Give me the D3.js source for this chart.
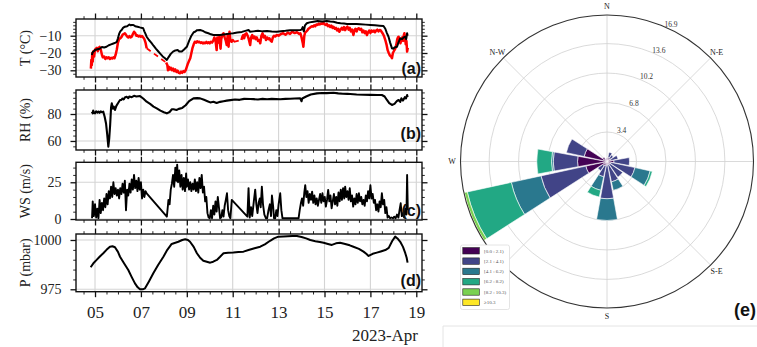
<!DOCTYPE html>
<html><head><meta charset="utf-8">
<script src="https://cdn.jsdelivr.net/npm/d3@7"></script>
<style>body{margin:0;background:#fff}svg{display:block}</style>
</head><body>
<svg id="chart" width="757" height="347"></svg>
<script>
// ---------- DATA (day of April 2023, value) ----------
const tempBlack = [[4.86,-21.2],[4.9,-19.5],[4.95,-19],[5.0,-18.3],[5.1,-17.8],[5.2,-17.5],[5.3,-16.5],[5.4,-16.8],[5.5,-16.4],[5.6,-15.5],[5.7,-15],[5.8,-14.5],[5.9,-14],[5.95,-13.5],[6.0,-11.5],[6.05,-9],[6.1,-7.5],[6.16,-6.7],[6.22,-5.5],[6.3,-4.8],[6.4,-4.5],[6.5,-3.5],[6.55,-4],[6.6,-3.8],[6.67,-3.8],[6.75,-4.5],[6.85,-4.8],[6.95,-5.2],[7.05,-5.5],[7.1,-5.7],[7.15,-7.5],[7.2,-9],[7.25,-10.6],[7.35,-12.5],[7.45,-14],[7.55,-15.8],[7.65,-17.5],[7.75,-19],[7.85,-20.5],[7.95,-22],[8.05,-23],[8.13,-24],[8.2,-22.5],[8.3,-20.5],[8.4,-19.2],[8.5,-18.5],[8.6,-18.3],[8.68,-19.2],[8.78,-19.2],[8.88,-18],[9.0,-16.4],[9.1,-13],[9.2,-10],[9.3,-8],[9.36,-7.7],[9.45,-6.8],[9.58,-6.7],[9.7,-7.2],[9.8,-8],[9.94,-8.6],[10.05,-9.2],[10.16,-9.6],[10.3,-9.6],[10.45,-9.6],[10.6,-9.3],[10.75,-9],[10.9,-8.8],[11.03,-8.6],[11.2,-8.2],[11.4,-7.8],[11.55,-7.2],[11.69,-6.7],[11.76,-7.7],[11.9,-7.5],[12.1,-7.2],[12.3,-7.5],[12.5,-7.3],[12.7,-7.6],[12.92,-7.7],[13.1,-7.4],[13.3,-7.2],[13.5,-6.9],[13.7,-6.8],[13.94,-6.7],[14.0,-6.5],[14.05,-5],[14.1,-7.5],[14.15,-4],[14.23,-2.8],[14.35,-2.3],[14.52,-1.9],[14.7,-1.5],[14.9,-1.8],[15.1,-1.5],[15.25,-1.8],[15.39,-1.9],[15.55,-2.5],[15.7,-2.8],[15.85,-3],[15.98,-3.2],[16.2,-3.2],[16.4,-3.3],[16.56,-3.4],[16.8,-3.6],[17.0,-3.8],[17.2,-4],[17.4,-4.2],[17.57,-4.4],[17.65,-6],[17.72,-8.5],[17.79,-10.6],[17.86,-14],[17.94,-17.3],[18.0,-17.5],[18.05,-16.8],[18.16,-16.4],[18.22,-14],[18.3,-11.5],[18.38,-12],[18.45,-11],[18.52,-10.6],[18.56,-12],[18.6,-8.6],[18.62,-10]];

const tempRed = [[4.82,-29],[4.84,-24],[4.86,-27],[4.88,-20],[4.9,-25],[4.93,-19],[4.96,-22],[5.0,-18],[5.04,-17.5],[5.08,-17],[5.12,-19],[5.16,-17],[5.2,-16.5],[5.25,-18],[5.3,-21],[5.34,-22.5],[5.4,-22],[5.45,-23.5],[5.5,-22.5],[5.55,-23],[5.6,-22.5],[5.65,-23.5],[5.7,-22.8],[5.75,-23.2],[5.8,-22.5],[5.85,-23],[5.9,-21],[5.95,-18],[6.0,-14],[6.05,-12],[6.1,-11.5],[6.15,-10.8],[6.2,-9.5],[6.25,-9],[6.3,-8.6],[6.35,-9.5],[6.4,-10.5],[6.45,-11],[6.5,-10.2],[6.55,-11],[6.6,-10.6],[6.65,-9],[6.7,-7.7],[6.75,-8.5],[6.8,-10],[6.85,-9.8],[6.9,-10.5],[6.95,-10],[7.0,-10.6],[7.05,-10.2],[7.1,-11],[7.15,-12],[7.2,-14],[7.25,-17.3],[8.1,-25.5],[8.15,-27],[8.18,-30],[8.22,-28],[8.26,-29.5],[8.3,-28.5],[8.35,-30],[8.4,-29],[8.45,-30.5],[8.5,-29.5],[8.55,-31],[8.6,-30.2],[8.65,-31.5],[8.7,-31.7],[8.75,-30.8],[8.8,-31.5],[8.85,-30.5],[8.9,-31],[8.95,-30],[9.0,-28],[9.05,-26],[9.1,-24.5],[9.15,-23],[9.2,-20],[9.25,-17],[9.3,-15],[9.35,-13.5],[9.4,-14],[9.45,-13.2],[9.5,-13.8],[9.55,-13.5],[9.6,-14.2],[9.65,-13.8],[9.7,-14.5],[9.75,-14],[9.8,-14.4],[9.85,-13.6],[9.9,-14.3],[9.95,-13.8],[10.0,-14.4],[10.05,-13.5],[10.1,-14],[10.15,-13],[10.2,-11],[10.25,-12.5],[10.3,-18.3],[10.33,-11],[10.38,-14],[10.42,-10.6],[10.47,-17.5],[10.5,-12],[10.55,-9.6],[10.6,-8.6],[10.65,-11],[10.7,-13],[10.74,-15.4],[10.78,-10],[10.82,-16.4],[10.86,-7.7],[10.9,-12.5],[10.95,-13.5],[11.0,-12.5],[11.05,-13.5],[11.38,-12.5],[11.42,-10.6],[11.46,-9.6],[11.5,-11.5],[11.55,-9],[11.6,-8.6],[11.65,-10],[11.7,-12],[11.76,-15.4],[11.8,-11],[11.85,-9.6],[11.9,-11.5],[11.95,-10.5],[12.0,-12],[12.05,-11],[12.1,-13],[12.15,-12.5],[12.2,-14.4],[12.25,-10],[12.3,-8.6],[12.35,-11],[12.4,-10],[12.45,-12.5],[12.5,-11],[12.55,-12],[12.6,-11.5],[12.65,-12.8],[12.7,-13.5],[12.75,-11],[12.8,-10],[12.85,-10.5],[12.92,-9.6],[13.0,-10],[13.1,-9],[13.2,-8.6],[13.3,-9.5],[13.4,-8.2],[13.5,-9],[13.6,-7.7],[13.7,-8.5],[13.8,-8],[13.9,-9],[13.95,-8.6],[14.0,-11],[14.05,-14],[14.08,-16.4],[14.12,-10],[14.16,-8],[14.2,-7.7],[14.25,-7],[14.3,-6],[14.35,-5.5],[14.4,-5],[14.45,-4.5],[14.5,-4.8],[14.55,-4],[14.6,-4.5],[14.65,-3.5],[14.7,-3.8],[14.75,-3],[14.8,-3.5],[14.85,-2.8],[14.9,-3.2],[14.96,-2.5],[15.0,-3.5],[15.05,-3.8],[15.1,-3.2],[15.15,-4.5],[15.2,-4],[15.25,-5],[15.3,-4.2],[15.35,-5.5],[15.39,-4.8],[15.45,-6],[15.5,-5.5],[15.55,-7],[15.6,-6],[15.65,-7.7],[15.7,-6.5],[15.75,-5.5],[15.8,-6.5],[15.85,-5],[15.9,-6.8],[15.95,-5.5],[16.0,-4.8],[16.05,-6.5],[16.1,-5.5],[16.15,-7.5],[16.2,-6.5],[16.26,-9.6],[16.3,-7],[16.35,-6],[16.4,-7.5],[16.45,-6],[16.5,-5.7],[16.55,-6.5],[16.6,-6],[16.65,-8],[16.7,-7],[16.75,-8.5],[16.8,-7.5],[16.85,-9.6],[16.9,-8],[16.95,-7],[17.0,-8.5],[17.05,-7],[17.1,-7.7],[17.15,-7],[17.2,-8],[17.25,-7],[17.3,-6.5],[17.35,-7.5],[17.4,-6.7],[17.45,-7],[17.5,-8],[17.55,-9],[17.6,-10.5],[17.65,-12.5],[17.7,-15],[17.75,-18.3],[17.8,-20],[17.85,-21.5],[17.9,-22],[17.94,-23],[17.98,-20],[18.02,-19],[18.06,-18],[18.09,-17.3],[18.13,-15],[18.17,-12],[18.2,-11],[18.23,-10.6],[18.27,-13],[18.31,-14.4],[18.35,-12],[18.39,-11],[18.43,-13],[18.46,-9.5],[18.48,-8.6],[18.51,-11],[18.54,-15],[18.57,-13],[18.6,-19.2],[18.63,-17]];

const relHumidity = [[4.86,81.7],[4.9,80.5],[4.92,82.5],[4.96,80.8],[5.0,80.5],[5.05,82],[5.1,81],[5.15,81.8],[5.2,80.9],[5.25,82],[5.3,81.3],[5.36,81.7],[5.42,78],[5.48,73],[5.53,65],[5.58,55.8],[5.62,62],[5.66,72],[5.7,85],[5.73,87.9],[5.78,84],[5.82,85.5],[5.87,83],[5.93,86],[6.0,88],[6.09,90.4],[6.15,90.5],[6.2,91.5],[6.25,90.8],[6.3,92.2],[6.38,92.8],[6.45,91.8],[6.5,93],[6.6,92.5],[6.7,93.5],[6.8,93],[6.96,93.3],[7.1,91.5],[7.25,89.1],[7.4,87.5],[7.55,85.5],[7.69,84.2],[7.85,82.5],[8.0,81.3],[8.13,80.5],[8.25,81.5],[8.35,83.5],[8.42,83.5],[8.55,83],[8.65,83.8],[8.8,84.5],[8.95,86.5],[9.1,89.5],[9.29,91.6],[9.45,91.8],[9.58,91.6],[9.75,90.5],[9.9,89.5],[10.02,88.6],[10.16,89.1],[10.3,88.2],[10.45,89],[10.6,89.5],[10.74,89.9],[10.9,90.3],[11.1,90.8],[11.3,90.5],[11.5,91.2],[11.76,91.1],[11.9,91],[12.1,90.8],[12.3,91.2],[12.5,90.9],[12.7,91.2],[13.07,90.9],[13.3,91.2],[13.5,91.3],[13.7,91.5],[13.94,91.6],[14.0,89.5],[14.03,91.5],[14.2,93],[14.4,94.5],[14.67,95.3],[14.9,95.6],[15.1,95.5],[15.39,95.8],[15.6,95.3],[15.8,95],[16.0,94.9],[16.12,94.8],[16.4,94.5],[16.7,94.3],[17.0,94.2],[17.3,94.1],[17.5,94.1],[17.62,93],[17.72,90.4],[17.82,88],[17.94,86.7],[18.05,87.5],[18.15,89.5],[18.23,90.4],[18.3,89],[18.35,91.6],[18.42,90],[18.5,92.5],[18.55,91.5],[18.6,94.1],[18.62,92.5]];

const windSpeed = [[4.87,0.5],[4.9,12],[4.95,2],[5.0,10],[5.05,1],[5.1,7],[5.15,0.5],[5.2,13],[5.25,4],[5.3,11],[5.35,6],[5.4,14],[5.45,8],[5.5,17],[5.55,10],[5.6,19],[5.65,14],[5.7,22],[5.75,15],[5.8,25],[5.85,17],[5.9,21],[5.95,16],[6.0,20],[6.05,14],[6.1,21],[6.15,17],[6.2,24],[6.25,18],[6.3,26],[6.35,6],[6.4,20],[6.45,16],[6.5,24],[6.55,18],[6.6,27],[6.65,20],[6.7,30],[6.75,21],[6.8,26],[6.85,19],[6.9,28],[6.95,20],[7.0,25],[7.05,14],[7.1,20],[7.15,15],[7.2,19],[7.25,17.5],[8.13,1.6],[8.17,8],[8.2,13],[8.25,10],[8.3,20],[8.35,24],[8.4,30],[8.45,22],[8.5,35],[8.55,26],[8.58,37],[8.62,25],[8.67,33],[8.72,22],[8.77,30],[8.82,20],[8.87,28],[8.92,19],[8.97,31],[9.0,22],[9.05,27],[9.1,20],[9.15,25],[9.2,19],[9.25,24],[9.3,20],[9.35,27],[9.4,19],[9.45,25],[9.5,18],[9.55,28],[9.6,21],[9.65,30],[9.7,18],[9.75,22],[9.8,12],[9.85,15],[9.9,4],[9.95,1],[10.0,0.5],[10.05,6],[10.1,0.5],[10.15,9],[10.2,3],[10.25,12],[10.3,5],[10.35,15],[10.4,8],[10.45,0.5],[10.5,1],[10.55,6],[10.6,1.6],[10.65,9],[10.7,13],[10.75,17.5],[10.8,6],[10.85,2],[10.9,0.5],[10.96,13],[11.64,1.6],[11.69,21],[11.74,1],[11.8,8],[11.85,2],[11.92,12],[11.98,20],[12.03,10],[12.08,4],[12.13,11],[12.18,14],[12.22,8],[12.27,22],[12.32,10],[12.38,3],[12.45,0.5],[12.5,0.5],[12.56,6],[12.62,10],[12.67,2],[12.71,16],[12.76,9],[12.8,0.5],[12.85,0.5],[12.9,6],[12.95,2],[13.0,10],[13.07,17.5],[13.12,6],[13.17,0.5],[13.87,0.5],[13.92,6],[13.97,10.7],[14.02,14],[14.07,9],[14.12,18],[14.16,23],[14.21,15],[14.26,19],[14.31,11],[14.36,17],[14.41,13],[14.46,18.6],[14.51,11],[14.56,16],[14.61,10],[14.66,14],[14.71,9],[14.76,13],[14.81,17],[14.86,11],[14.91,17.5],[14.96,12],[15.01,15],[15.06,8.4],[15.11,13],[15.16,19.8],[15.21,12],[15.26,16],[15.31,7.3],[15.36,12],[15.41,17],[15.46,10],[15.51,15],[15.56,9],[15.61,18],[15.66,12],[15.71,20],[15.76,13],[15.81,21],[15.86,14],[15.9,22],[15.95,15],[16.0,19],[16.05,13],[16.1,20.9],[16.15,12],[16.2,16],[16.25,8.4],[16.3,14],[16.35,10],[16.4,17],[16.45,11],[16.5,17.5],[16.55,12],[16.6,15],[16.65,10],[16.7,13],[16.75,9],[16.8,16],[16.85,12],[16.9,19],[16.95,14],[17.0,23],[17.05,14],[17.1,17],[17.15,11],[17.2,13],[17.25,6],[17.3,10],[17.35,5],[17.4,12],[17.45,8],[17.5,17.5],[17.55,10],[17.6,13],[17.65,4],[17.7,8],[17.75,1],[17.8,2],[17.86,0.5],[17.92,1],[17.98,0.5],[18.04,1.6],[18.1,0.5],[18.16,3],[18.22,1],[18.27,6],[18.32,10.7],[18.37,2],[18.42,3.9],[18.47,1],[18.52,7],[18.57,3],[18.6,30],[18.63,6]];

const pressure = [[4.81,986.2],[4.95,988.5],[5.07,989.9],[5.2,991.5],[5.36,993.3],[5.5,995],[5.65,996.6],[5.76,996.8],[5.87,996.3],[6.0,994],[6.09,991.5],[6.25,988.5],[6.45,984.8],[6.6,981.2],[6.74,978],[6.86,976],[6.96,975],[7.08,975],[7.18,975.5],[7.35,979],[7.54,983.1],[7.75,987.3],[7.98,991.5],[8.15,995],[8.34,998],[8.5,998.6],[8.63,999.1],[8.8,1000],[8.93,1000.4],[9.05,1000],[9.14,999.1],[9.3,996.5],[9.44,993.3],[9.58,991],[9.72,989.5],[9.87,989],[10.02,988.5],[10.15,989],[10.31,989.9],[10.45,991.5],[10.6,993.3],[10.8,993.5],[11.03,993.6],[11.25,993.9],[11.47,994.1],[11.69,994.9],[11.95,995.8],[12.2,996.6],[12.4,997.8],[12.63,999.6],[12.8,1000.8],[12.99,1001.7],[13.2,1001.8],[13.4,1001.9],[13.6,1002],[13.8,1002],[14.0,1001.5],[14.2,1000.8],[14.38,1000],[14.6,999.4],[14.8,999],[14.96,998.6],[15.15,998],[15.32,997.5],[15.5,998.3],[15.68,998.6],[15.9,998],[16.1,997.3],[16.26,996.6],[16.5,995.5],[16.7,994.1],[16.82,993],[16.92,991.9],[17.1,993],[17.28,993.6],[17.45,994.2],[17.65,994.9],[17.8,996],[17.95,999.5],[18.08,1001.7],[18.18,1000.8],[18.3,999.1],[18.42,996.5],[18.52,993.3],[18.58,991],[18.62,988.5]];

const dateTicks = [5, 7, 9, 11, 13, 15, 17, 19];
const dateTickLabels = ["05", "07", "09", "11", "13", "15", "17", "19"];
const tTicks = [-30, -20, -10];
const rhTicks = [60, 80];
const wsTicks = [0, 25];
const pTicks = [975, 1000];

// Wind rose
const directions = ["N","NNE","NE","ENE","E","ESE","SE","SSE","S","SSW","SW","WSW","W","WNW","NW","NNW"];
const speedBins = ["[0.0 : 2.1)", "[2.1 : 4.1)", "[4.1 : 6.2)", "[6.2 : 8.2)", "[8.2 : 10.3)", "≥10.3"];
const freqBin0 = [0.4,0.5,0.4,0.5,0.8,0.5,0.4,0.4,0.4,0.5,0.6,2.5,3.4,2.7,0.6,0.3];
const freqBin1 = [0,0.6,0.5,0.8,1.8,2.8,1.8,2.0,3.9,1.3,0.7,5.3,2.8,2.1,0,0];
const freqBin2 = [0,0,0,0,0,1.8,0,1.0,2.5,1.6,0,3.5,0.2,0,0,0];
const freqBin3 = [0,0,0,0,0,0.25,0,0,0,0.8,0,5.2,1.7,0,0,0];
const freqBin4 = [0,0,0,0,0,0,0,0,0,0,0,0.35,0,0,0,0];
const freqBin5 = [0,0,0,0,0,0,0,0,0,0,0,0.05,0,0,0,0];
const ringTicks = [3.4, 6.8, 10.2, 13.6, 16.9];
// compass labels visible in the picture (E is beyond the right edge, S-W is under the legend)
const compassLabels = [["N", 0], ["N-E", 45], ["S-E", 135], ["S", 180], ["W", 270], ["N-W", 315]];

// ---------- DRAWING ----------
const svg = d3.select("#chart");
svg.append("rect").attr("width",757).attr("height",347).attr("fill","#fff");
const DAY0 = Date.UTC(2023, 3, 1);
const toDate = d => new Date(DAY0 + (d - 1) * 864e5);
const x = d3.scaleUtc().domain([toDate(4.1714), toDate(19.2486)]).range([76, 422]);
const majorDates = dateTicks.map(toDate);
const minorDates = d3.utcHour.every(12).range(toDate(4.2), toDate(19.25));
const serif = "'Liberation Serif','Times New Roman',serif";

const panels = [
  {id:"a", top:19, bottom:77, domain:[-33.87,-0.35], ticks:tTicks, minor:2, label:"T (°C)", lb:73.5},
  {id:"b", top:90, bottom:150, domain:[53.3,97.8], ticks:rhTicks, minor:4, label:"RH (%)", lb:139},
  {id:"c", top:162.3, bottom:220, domain:[-0.68,38.6], ticks:wsTicks, minor:5, label:"WS (m/s)", lb:215.5},
  {id:"d", top:234, bottom:291.7, domain:[973.78,1003.04], ticks:pTicks, minor:5, label:"P (mbar)", lb:285.5}
];

function styleAxis(g, w) {
  g.select(".domain").remove();
  g.selectAll(".tick line").attr("stroke", "#111").attr("stroke-width", w);
}

panels.forEach((p, i) => {
  const y = d3.scaleLinear().domain(p.domain).range([p.bottom, p.top]);
  p.y = y;
  const g = svg.append("g");
  g.selectAll(".gx").data(majorDates).join("line")
    .attr("x1", d => x(d)).attr("x2", d => x(d)).attr("y1", p.top).attr("y2", p.bottom)
    .attr("stroke", "#d4d4d4").attr("stroke-width", 1.1);
  g.selectAll(".gy").data(p.ticks).join("line")
    .attr("x1", 76).attr("x2", 422).attr("y1", d => y(d)).attr("y2", d => y(d))
    .attr("stroke", "#d4d4d4").attr("stroke-width", 1.1);
  svg.append("clipPath").attr("id", "clip" + p.id).append("rect")
    .attr("x", 76).attr("y", p.top).attr("width", 346).attr("height", p.bottom - p.top);
  const minorY = d3.range(Math.ceil(p.domain[0] / p.minor) * p.minor, p.domain[1], p.minor)
    .filter(v => !p.ticks.includes(v));
  const minorX = minorDates.filter(d => !majorDates.some(m => +m === +d));
  const top = g.append("g").attr("transform", `translate(0,${p.top})`);
  top.append("g").call(d3.axisTop(x).tickValues(majorDates).tickSize(5.5).tickFormat("")).call(s => styleAxis(s, 1.3));
  top.append("g").call(d3.axisTop(x).tickValues(minorX).tickSize(2.8).tickFormat("")).call(s => styleAxis(s, 0.9));
  const bot = g.append("g").attr("transform", `translate(0,${p.bottom})`);
  const botMajor = d3.axisBottom(x).tickValues(majorDates).tickSize(5.5).tickPadding(9)
    .tickFormat(i === 3 ? ((d, k) => dateTickLabels[k]) : "");
  bot.append("g").call(botMajor).call(s => styleAxis(s, 1.3))
    .call(s => s.selectAll("text").attr("font-family", serif).attr("font-size", 17).attr("fill", "#222"));
  bot.append("g").call(d3.axisBottom(x).tickValues(minorX).tickSize(2.8).tickFormat("")).call(s => styleAxis(s, 0.9));
  const left = g.append("g").attr("transform", "translate(76,0)");
  left.append("g").call(d3.axisLeft(y).tickValues(p.ticks).tickSize(5.5).tickPadding(9).tickFormat(d3.format("d")))
    .call(s => styleAxis(s, 1.3))
    .call(s => s.selectAll("text").attr("font-family", serif).attr("font-size", 14).attr("fill", "#222"));
  left.append("g").call(d3.axisLeft(y).tickValues(minorY).tickSize(2.8).tickFormat("")).call(s => styleAxis(s, 0.9));
  const right = g.append("g").attr("transform", "translate(422,0)");
  right.append("g").call(d3.axisRight(y).tickValues(p.ticks).tickSize(5.5).tickFormat("")).call(s => styleAxis(s, 1.3));
  right.append("g").call(d3.axisRight(y).tickValues(minorY).tickSize(2.8).tickFormat("")).call(s => styleAxis(s, 0.9));
  g.append("text").attr("transform", `translate(30,${(p.top + p.bottom) / 2}) rotate(-90)`)
    .attr("text-anchor", "middle").attr("font-family", serif).attr("font-size", 14).attr("fill", "#222")
    .text(p.label);
});

function drawLine(p, data, color, width, dashGaps) {
  const line = d3.line().x(d => x(toDate(d[0]))).y(d => p.y(d[1]));
  const g = svg.append("g").attr("clip-path", `url(#clip${p.id})`);
  if (!dashGaps) {
    g.append("path").attr("d", line(data)).attr("fill", "none").attr("stroke", color)
      .attr("stroke-width", width).attr("stroke-linejoin", "round");
    return;
  }
  let seg = [data[0]];
  const segs = [], gaps = [];
  for (let k = 1; k < data.length; k++) {
    if (data[k][0] - data[k - 1][0] > 0.3) { segs.push(seg); gaps.push([data[k - 1], data[k]]); seg = []; }
    seg.push(data[k]);
  }
  segs.push(seg);
  segs.forEach(s => g.append("path").attr("d", line(s)).attr("fill", "none").attr("stroke", color)
    .attr("stroke-width", width).attr("stroke-linejoin", "round"));
  gaps.forEach(s => g.append("path").attr("d", line(s)).attr("fill", "none").attr("stroke", color)
    .attr("stroke-width", 1.8).attr("stroke-dasharray", "5,4"));
}
drawLine(panels[0], tempRed, "#ff0000", 2.5, true);
drawLine(panels[0], tempBlack, "#000", 2, false);
drawLine(panels[1], relHumidity, "#000", 2.1, false);
drawLine(panels[2], windSpeed, "#000", 1.9, false);
drawLine(panels[3], pressure, "#000", 2, false);

panels.forEach(p => {
  svg.append("rect").attr("x", 76).attr("y", p.top).attr("width", 346).attr("height", p.bottom - p.top)
    .attr("fill", "none").attr("stroke", "#111").attr("stroke-width", 1.4);
  svg.append("text").attr("x", 421).attr("y", p.lb).attr("text-anchor", "end")
    .attr("font-family", "'Liberation Sans',Arial,sans-serif").attr("font-weight", "bold").attr("font-size", 16)
    .attr("fill", "#111").text(`(${p.id})`);
});
svg.append("text").attr("x", 418).attr("y", 341).attr("text-anchor", "end")
  .attr("font-family", serif).attr("font-size", 17).attr("fill", "#222").text("2023-Apr");

// ---------- WIND ROSE ----------
const cx = 607, cy = 161.5;
const r = d3.scaleLinear().domain([0, 16.9]).range([0, 146.5]);
const rose = svg.append("g").attr("transform", `translate(${cx},${cy})`);
ringTicks.slice(0, 4).forEach(v => rose.append("circle").attr("r", r(v)).attr("fill", "none")
  .attr("stroke", "#d0d0d0").attr("stroke-width", 0.8));
d3.range(8).forEach(k => {
  const a = k * Math.PI / 4;
  rose.append("line").attr("x1", 0).attr("y1", 0)
    .attr("x2", r(16.9) * Math.sin(a)).attr("y2", -r(16.9) * Math.cos(a))
    .attr("stroke", "#d0d0d0").attr("stroke-width", 0.8);
});
const colors = ["#440154", "#414487", "#2a788e", "#22a884", "#7ad151", "#fde725"];
const bins = [freqBin0, freqBin1, freqBin2, freqBin3, freqBin4, freqBin5];
const arc = d3.arc();
const halfW = 10.2 * Math.PI / 180;
directions.forEach((dName, k) => {
  const ang = k * 22.5 * Math.PI / 180;
  let cum = 0;
  bins.forEach((b, j) => {
    const v = b[k];
    if (v <= 0) return;
    rose.append("path").attr("d", arc({innerRadius: r(cum), outerRadius: r(cum + v), startAngle: ang - halfW, endAngle: ang + halfW}))
      .attr("fill", colors[j]).attr("stroke", "#fff").attr("stroke-width", 0.6);
    cum += v;
  });
});
rose.append("circle").attr("r", r(16.9)).attr("fill", "none").attr("stroke", "#333").attr("stroke-width", 1.1);
ringTicks.forEach(v => {
  const a = 25 * Math.PI / 180, rr = r(v) + 5;
  rose.append("text").attr("x", rr * Math.sin(a)).attr("y", -rr * Math.cos(a)).attr("dy", "0.35em")
    .attr("text-anchor", "middle").attr("font-family", serif).attr("font-size", 7.5).attr("fill", "#333").text(v.toFixed(1));
});
compassLabels.forEach(([t, deg]) => {
  const a = deg * Math.PI / 180, rr = 155;
  rose.append("text").attr("x", rr * Math.sin(a)).attr("y", -rr * Math.cos(a)).attr("dy", "0.35em")
    .attr("text-anchor", "middle").attr("font-family", serif).attr("font-size", 8).attr("fill", "#222").text(t);
});
const lg = svg.append("g");
lg.append("rect").attr("x", 460.5).attr("y", 245).attr("width", 49).attr("height", 64.5).attr("rx", 2)
  .attr("fill", "#fff").attr("stroke", "#ddd").attr("stroke-width", 0.8);
speedBins.forEach((t, k) => {
  const yy = 250.8 + k * 10.3;
  lg.append("rect").attr("x", 462.8).attr("y", yy - 3.2).attr("width", 16.5).attr("height", 6.4)
    .attr("fill", colors[k]).attr("stroke", "#222").attr("stroke-width", 0.6);
  lg.append("text").attr("x", 484).attr("y", yy).attr("dy", "0.35em").attr("font-family", serif)
    .attr("font-size", 5).attr("fill", "#555").text(t);
});
svg.append("text").attr("x", 734).attr("y", 316).attr("font-family", "'Liberation Sans',Arial,sans-serif")
  .attr("font-weight", "bold").attr("font-size", 18).attr("fill", "#111").text("(e)");
svg.append("path").attr("d", "M443,347V326H757").attr("fill", "none").attr("stroke", "#e4e4e4").attr("stroke-width", 1);
</script>
</body></html>
